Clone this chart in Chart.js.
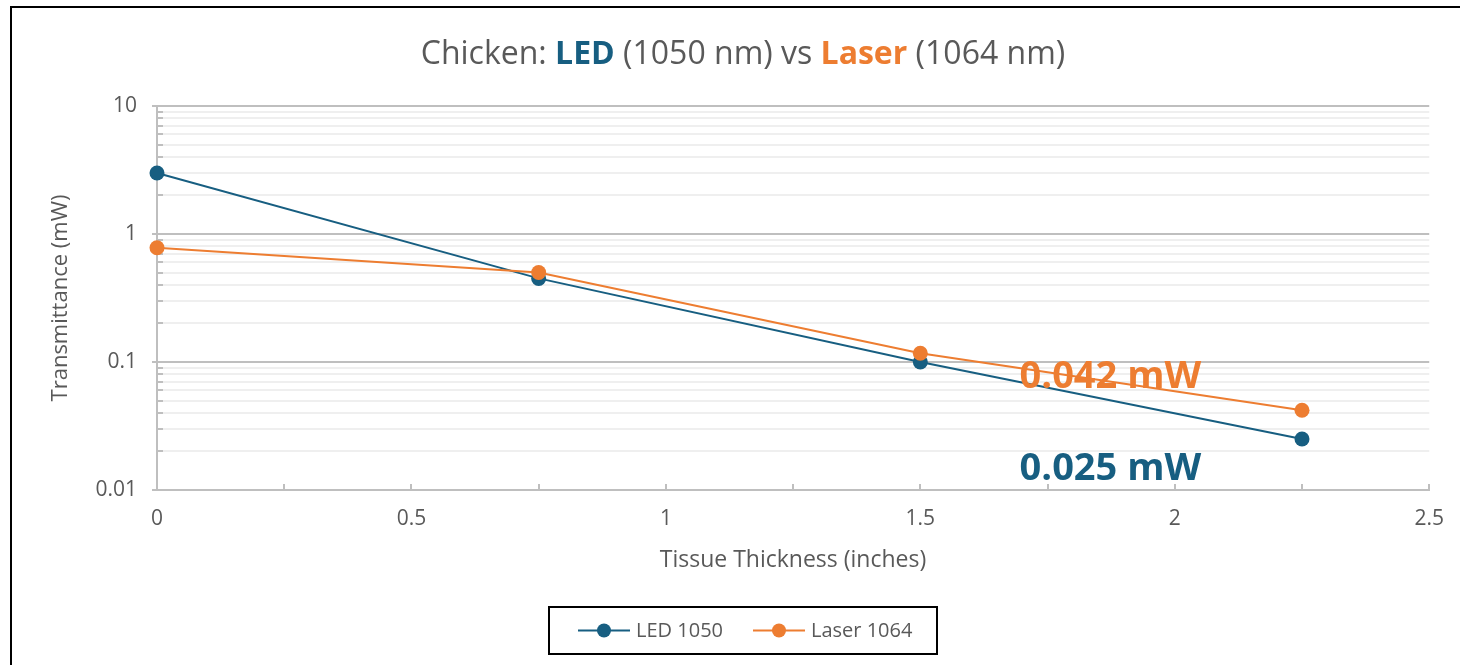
<!DOCTYPE html>
<html>
<head>
<meta charset="utf-8">
<script src="https://cdn.jsdelivr.net/npm/chart.js@4.4.1/dist/chart.umd.min.js"></script>
<style>
  html, body { margin: 0; padding: 0; background: #ffffff; }
  #wrap { width: 1460px; height: 665px; position: relative; }
</style>
</head>
<body>
<div id="wrap"><canvas id="c" width="1460" height="665"></canvas></div>
<script>
// Tissue thickness (inches) and measured transmittance (mW)
const thickness = [0, 0.75, 1.5, 2.25];
const led1050   = [3.0, 0.45, 0.10, 0.025];
const laser1064 = [0.78, 0.50, 0.117, 0.042];

const seriesNames = ['LED 1050', 'Laser 1064'];

// Axis ticks
const yMajorTicks = [0.01, 0.1, 1, 10];
const yMinorSteps = [2, 3, 4, 5, 6, 7, 8, 9];
const xTickValues = [0, 0.25, 0.5, 0.75, 1, 1.25, 1.5, 1.75, 2, 2.25, 2.5];
const xTickLabels = ['0', '', '0.5', '', '1', '', '1.5', '', '2', '', '2.5'];

const BLUE = '#175e81';
const ORANGE = '#ed7d31';
const GRAY_TEXT = '#595959';
const AXIS_GRAY = '#bfbfbf';
const MINOR_GRAY = '#efefef';
const FONT = '"Open Sans", "DejaVu Sans", sans-serif';

const toPoints = (xs, ys) => xs.map((x, i) => ({ x: x, y: ys[i] }));

const decor = {
  id: 'decor',
  beforeDatasetsDraw(chart) {
    const ctx = chart.ctx;
    const xs = chart.scales.x, ys = chart.scales.y;
    const a = chart.chartArea;
    ctx.save();
    ctx.strokeStyle = AXIS_GRAY;
    ctx.lineWidth = 2;
    // inner minor marks along the value axis
    ys.ticks.forEach(t => {
      if (t.major) return;
      const y = Math.round(ys.getPixelForValue(t.value));
      ctx.beginPath();
      ctx.moveTo(a.left, y);
      ctx.lineTo(a.left + 6, y);
      ctx.stroke();
    });
    // upward marks along the thickness axis
    xs.ticks.forEach(t => {
      const x = Math.round(xs.getPixelForValue(t.value));
      ctx.beginPath();
      ctx.moveTo(x, a.bottom);
      ctx.lineTo(x, a.bottom - 6);
      ctx.stroke();
    });
    ctx.restore();
  },
  afterDraw(chart) {
    const ctx = chart.ctx;
    const xs = chart.scales.x;
    ctx.save();

    // outer frame
    ctx.strokeStyle = '#000000';
    ctx.lineWidth = 2;
    ctx.strokeRect(11, 7, 1470, 680);

    // title with coloured source names
    const parts = [
      { t: 'Chicken: ', c: GRAY_TEXT, w: '400' },
      { t: 'LED', c: BLUE, w: '700' },
      { t: ' (1050 nm) vs ', c: GRAY_TEXT, w: '400' },
      { t: 'Laser', c: ORANGE, w: '700' },
      { t: ' (1064 nm)', c: GRAY_TEXT, w: '400' }
    ];
    const tSize = 32;
    let total = 0;
    parts.forEach(p => { ctx.font = p.w + ' ' + tSize + 'px ' + FONT; p.width = ctx.measureText(p.t).width; total += p.width; });
    let tx = 743 - total / 2;
    ctx.textBaseline = 'alphabetic';
    ctx.textAlign = 'left';
    parts.forEach(p => {
      ctx.font = p.w + ' ' + tSize + 'px ' + FONT;
      ctx.fillStyle = p.c;
      ctx.fillText(p.t, tx, 64);
      tx += p.width;
    });

    // axis titles
    ctx.fillStyle = GRAY_TEXT;
    ctx.font = '400 23px ' + FONT;
    ctx.textAlign = 'center';
    ctx.textBaseline = 'middle';
    ctx.fillText('Tissue Thickness (inches)', 793, 560);
    ctx.font = '400 22px ' + FONT;
    ctx.save();
    ctx.translate(61, 298);
    ctx.rotate(-Math.PI / 2);
    ctx.fillText('Transmittance (mW)', 0, 0);
    ctx.restore();

    // end-point value callouts
    ctx.font = '700 38px ' + FONT;
    ctx.textAlign = 'left';
    ctx.textBaseline = 'alphabetic';
    const lx = xs.getPixelForValue(1.695);
    ctx.fillStyle = ORANGE;
    ctx.fillText(laser1064[laser1064.length - 1].toFixed(3) + ' mW', lx, 388);
    ctx.fillStyle = BLUE;
    ctx.fillText(led1050[led1050.length - 1].toFixed(3) + ' mW', lx, 480);

    // legend
    const box = { x: 549, y: 607, w: 388, h: 47 };
    ctx.fillStyle = '#ffffff';
    ctx.fillRect(box.x, box.y, box.w, box.h);
    ctx.strokeStyle = '#000000';
    ctx.lineWidth = 2;
    ctx.strokeRect(box.x, box.y, box.w, box.h);
    const cy = box.y + box.h / 2;
    const items = [
      { name: seriesNames[0], c: BLUE, x0: 578 },
      { name: seriesNames[1], c: ORANGE, x0: 753 }
    ];
    ctx.font = '400 20px ' + FONT;
    ctx.textBaseline = 'middle';
    items.forEach(it => {
      ctx.strokeStyle = it.c;
      ctx.lineWidth = 2;
      ctx.beginPath();
      ctx.moveTo(it.x0, cy);
      ctx.lineTo(it.x0 + 52, cy);
      ctx.stroke();
      ctx.fillStyle = it.c;
      ctx.beginPath();
      ctx.arc(it.x0 + 26, cy, 7, 0, Math.PI * 2);
      ctx.fill();
      ctx.fillStyle = GRAY_TEXT;
      ctx.fillText(it.name, it.x0 + 58, cy + 1);
    });

    ctx.restore();
  }
};

new Chart(document.getElementById('c'), {
  type: 'line',
  data: {
    datasets: [
      {
        label: seriesNames[0],
        data: toPoints(thickness, led1050),
        borderColor: BLUE,
        backgroundColor: BLUE,
        borderWidth: 2,
        pointRadius: 7.5,
        pointHoverRadius: 7.5,
        pointBorderWidth: 0,
        tension: 0,
        clip: false,
        order: 1
      },
      {
        label: seriesNames[1],
        data: toPoints(thickness, laser1064),
        borderColor: ORANGE,
        backgroundColor: ORANGE,
        borderWidth: 2,
        pointRadius: 7.5,
        pointHoverRadius: 7.5,
        pointBorderWidth: 0,
        tension: 0,
        clip: false,
        order: 0
      }
    ]
  },
  options: {
    responsive: false,
    devicePixelRatio: 1,
    animation: false,
    events: [],
    layout: { padding: { left: 0, right: 29, top: 106, bottom: 0 } },
    plugins: {
      legend: { display: false },
      title: { display: false },
      tooltip: { enabled: false }
    },
    scales: {
      x: {
        type: 'linear',
        min: 0,
        max: 2.5,
        afterFit: s => { s.height = 175; },
        afterBuildTicks: s => { s.ticks = xTickValues.map(v => ({ value: v })); },
        grid: { display: true, drawOnChartArea: false, drawTicks: false },
        border: { display: true, color: AXIS_GRAY, width: 2 },
        ticks: {
          padding: 16,
          color: GRAY_TEXT,
          font: { family: FONT, size: 21 },
          maxRotation: 0,
          autoSkip: false,
          callback: (v, i) => xTickLabels[i]
        }
      },
      y: {
        type: 'logarithmic',
        min: 0.01,
        max: 10,
        afterFit: s => { s.width = 157; },
        afterBuildTicks: s => {
          const vals = [];
          yMajorTicks.forEach((m, i) => {
            vals.push({ value: m, major: true });
            if (i < yMajorTicks.length - 1) yMinorSteps.forEach(k => vals.push({ value: +(k * m).toPrecision(6), major: false }));
          });
          s.ticks = vals;
        },
        grid: {
          color: c => (c.tick && c.tick.major ? AXIS_GRAY : MINOR_GRAY),
          lineWidth: 2,
          tickLength: 5,
          tickColor: c => (c.tick && c.tick.major ? AXIS_GRAY : 'rgba(0,0,0,0)')
        },
        border: { display: true, color: AXIS_GRAY, width: 2 },
        ticks: {
          padding: 15,
          color: GRAY_TEXT,
          font: { family: FONT, size: 21 },
          autoSkip: false,
          callback: function (v, i, ticks) {
            return ticks[i].major ? String(v) : '';
          }
        }
      }
    }
  },
  plugins: [decor]
});
</script>
</body>
</html>
